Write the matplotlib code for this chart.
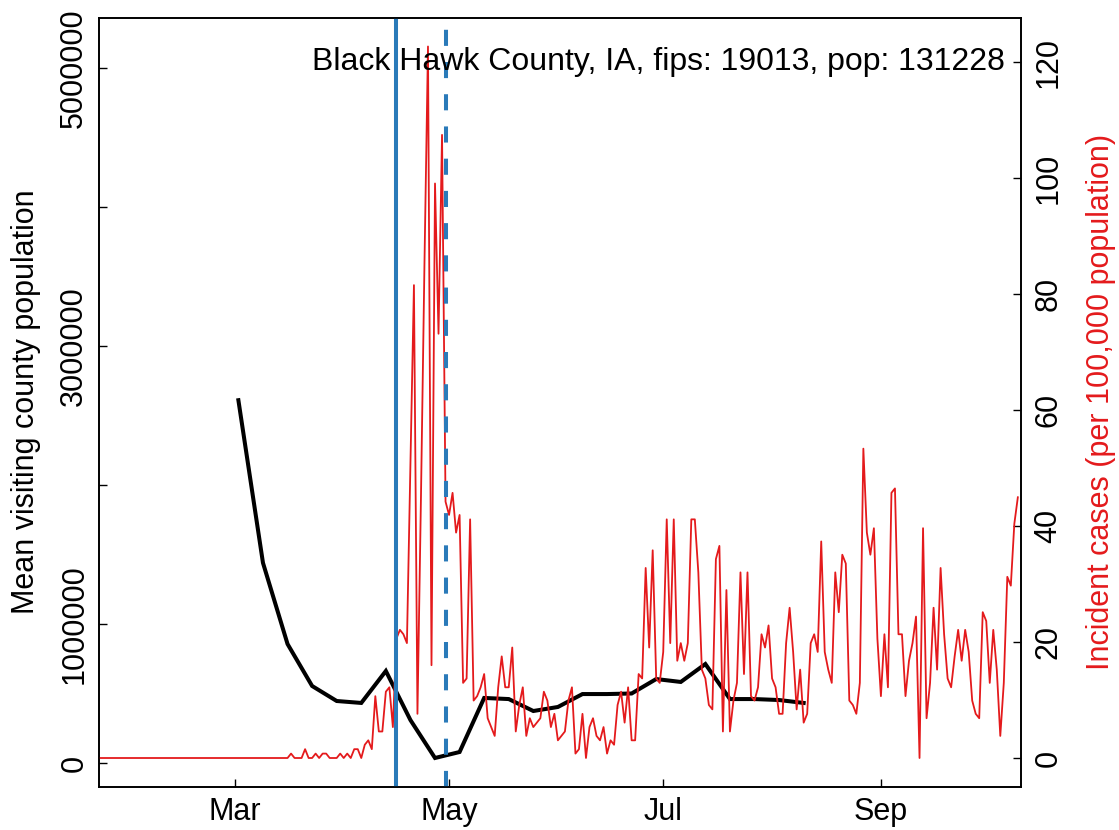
import numpy as np
import pandas as pd
import matplotlib
matplotlib.use('Agg')
import matplotlib.pyplot as plt
import matplotlib.dates as mdates

plt.rcParams['font.family'] = ['Liberation Sans', 'DejaVu Sans']

title = "Black Hawk County, IA, fips: 19013, pop: 131228"
pop = 131228

# weekly mean visiting county population, starting Monday 2020-03-02
visit_start = '2020-03-02'
visit_mean = [2610000, 1440000, 856000, 554000, 446000, 432000, 662000, 309000,
	36000, 79000, 468000, 460000, 374000, 403000, 496000, 496000,
	500000, 604000, 583000, 712000, 460000, 460000, 453000, 432000]

# daily new cases, starting 2020-01-22
case_start = '2020-01-22'
cases = [0, 0, 0, 0, 0, 0, 0, 0, 0, 0,
	0, 0, 0, 0, 0, 0, 0, 0, 0, 0,
	0, 0, 0, 0, 0, 0, 0, 0, 0, 0,
	0, 0, 0, 0, 0, 0, 0, 0, 0, 0,
	0, 0, 0, 0, 0, 0, 0, 0, 0, 0,
	0, 0, 0, 0, 0,
	1, 0, 0, 0, 2, 0, 0, 1, 0, 1,
	1, 0, 0, 0, 1, 0, 1, 0, 2, 2,
	0, 3, 4, 2, 14, 6, 6, 15, 16, 7,
	27, 29, 28, 26, 66, 107, 10, 59, 112, 161,
	21, 130, 96, 141,
	58, 55, 60, 51, 55, 17, 18, 54, 13, 14,
	16, 19, 9, 7, 5, 16, 23, 16, 16, 25,
	6, 12, 16, 5, 9, 7, 8, 9, 15, 13,
	7, 10, 4, 5, 6, 13, 16, 1, 2, 10,
	0, 7, 9, 5, 4, 7, 1, 4, 3, 12,
	15, 8, 16, 4, 4, 19, 18, 43, 25, 47,
	18, 17, 24, 54, 26, 54, 22, 26, 22, 26,
	54, 54, 42, 20, 18, 12, 11, 45, 48, 6,
	38, 6, 13, 17, 42, 19, 42, 14, 13, 16,
	28, 25, 30, 18, 16, 10, 10, 26, 34, 24,
	11, 20, 8, 10, 26, 28, 24, 49, 24, 20,
	17, 42, 33, 46, 44, 13, 12, 10, 17, 70,
	51, 46, 52, 27, 14, 28, 16, 60, 61, 28,
	28, 14, 22, 26, 32, 0, 52, 9, 17, 34,
	20, 43, 28, 18, 16, 23, 29, 22, 29, 24,
	13, 10, 9, 33, 31, 17, 29, 20, 5, 17,
	41, 39, 53, 59]

policy_solid = '2020-04-16'
policy_dashed = '2020-04-30'

month_ticks = ['2020-03-01', '2020-05-01', '2020-07-01', '2020-09-01']
month_labels = ['Mar', 'May', 'Jul', 'Sep']
left_ticks = [0, 1000000, 2000000, 3000000, 4000000, 5000000]
left_labels = ['0', '1000000', '', '3000000', '', '5000000']
right_ticks = [0, 20, 40, 60, 80, 100, 120]

red = '#E41A1C'
blue = '#2A7AB9'
fs = 22

visit_dates = pd.date_range(visit_start, periods=len(visit_mean), freq='7D')
case_dates = pd.date_range(case_start, periods=len(cases), freq='D')
incid = np.array(cases) / pop * 1e5

fig = plt.figure(figsize=(11.19, 8.30), dpi=100)
ax = fig.add_axes([99/1119, 1-787/830, 922/1119, 769/830])
ax.plot(visit_dates, visit_mean, color='black', lw=2.9, solid_joinstyle='miter')
ax.set_ylim(-172700, 5359700)
x0 = pd.Timestamp('2020-03-01')
ax.set_xlim(mdates.date2num(x0 - pd.Timedelta(days=38.7)), mdates.date2num(x0 + pd.Timedelta(days=223.9)))
ax.set_yticks(left_ticks)
ax.set_yticklabels(left_labels, rotation=90, va='center')
ax.set_xticks([mdates.date2num(pd.Timestamp(d)) for d in month_ticks])
ax.set_xticklabels(month_labels)
ax.tick_params(direction='in', length=6, width=1, labelsize=fs)
ax.tick_params(axis='y', pad=7)
ax.tick_params(axis='x', pad=7)

ax2 = ax.twinx()
ax2.plot(case_dates, incid, color=red, lw=1.3)
ax2.axvline(pd.Timestamp(policy_solid), color=blue, lw=2.9)
ax2.axvline(pd.Timestamp(policy_dashed), color=blue, lw=2.9, dashes=(4, 4))
ax2.set_ylim(-5.0, 127.6)
ax2.set_yticks(right_ticks)
ax2.set_yticklabels([str(t) for t in right_ticks], rotation=90, va='center')
ax2.tick_params(direction='in', length=6, width=1, labelsize=fs, pad=9)
ax2.set_xlim(ax.get_xlim())

for a in (ax, ax2):
	for s in a.spines.values():
		s.set_linewidth(1.2)

fig.text(1005/1119, 1-70/830, title, ha='right', va='baseline', fontsize=23)
fig.text(26/1119, 1-402/830, 'Mean visiting county population', rotation=90, ha='center', va='center', fontsize=fs)
fig.text(1101/1119, 1-402/830, 'Incident cases (per 100,000 population)', rotation=90, ha='center', va='center', fontsize=fs, color=red)

fig.savefig('out.png', dpi=100)
